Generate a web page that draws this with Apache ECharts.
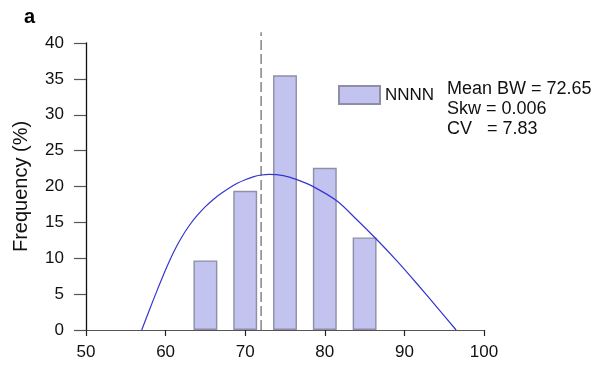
<!DOCTYPE html>
<html>
<head>
<meta charset="utf-8">
<script src="https://cdn.jsdelivr.net/npm/echarts@6/dist/echarts.min.js"></script>
<style>
  html, body { margin: 0; padding: 0; background: #fff; }
  #chart { width: 597px; height: 371px; }
</style>
</head>
<body>
<div id="chart"></div>
<script>
// Histogram bins (bin centre, frequency %)
const binCenters = [65, 70, 75, 80, 85];
const binFreq = [9.7, 19.4, 35.5, 22.6, 12.9];
const binSpan = 3; // bar width in axis units

// Fitted distribution curve
const curveX = [57, 58, 59, 60, 61, 62, 63, 64, 65, 66, 67, 68, 69, 70, 71, 72, 73, 74.8, 76.5, 78.6, 81.5, 84.0, 86.4, 89.0, 91.5, 94.0, 96.5];
const curveY = [0, 2.9, 5.7, 8.4, 10.85, 12.9, 14.6, 16.0, 17.2, 18.2, 19.05, 19.8, 20.45, 20.95, 21.35, 21.6, 21.7, 21.52, 20.95, 19.95, 18.0, 15.4, 12.75, 9.7, 6.55, 3.3, 0];

// Vertical dashed reference line
const refLineX = 72;
const refLineTop = 41.5;

// Axis ranges
const xMin = 50, xMax = 100, xStep = 10;
const yMin = 0, yMax = 40, yStep = 5;

const seriesName = 'NNNN';
const statLines = ['Mean BW = 72.65', 'Skw = 0.006', 'CV   = 7.83'];
const panelTag = 'a';
const yTitle = 'Frequency (%)';

const FONT = 'Liberation Sans, Arial, sans-serif';

const chart = echarts.init(document.getElementById('chart'), null, { renderer: 'canvas' });

const gridLeft = 86, gridRight = 113, gridTop = 43, gridBottom = 41;
const plotW = 597 - gridLeft - gridRight;
const barPx = plotW / (xMax - xMin) * binSpan;

chart.setOption({
  animation: false,
  grid: { left: gridLeft, right: gridRight, top: gridTop, bottom: gridBottom },
  legend: {
    data: [seriesName],
    left: 333,
    top: 80,
    itemWidth: 41,
    itemHeight: 18,
    icon: 'rect',
    textStyle: { fontFamily: FONT, fontSize: 17, color: '#111' }
  },
  xAxis: {
    type: 'value',
    min: xMin, max: xMax, interval: xStep,
    axisLine: { show: true, lineStyle: { color: '#555', width: 1.2 } },
    axisTick: { show: true, length: 6, lineStyle: { color: '#222', width: 1.2 } },
    axisLabel: { fontFamily: FONT, fontSize: 17, color: '#111', margin: 14 },
    splitLine: { show: false }
  },
  yAxis: {
    type: 'value',
    min: yMin, max: yMax, interval: yStep,
    name: yTitle,
    nameLocation: 'middle',
    nameGap: 55,
    nameTextStyle: { fontFamily: FONT, fontSize: 20, color: '#111' },
    axisLine: { show: true, onZero: false, lineStyle: { color: '#111', width: 1.3 } },
    axisTick: { show: true, length: 12, lineStyle: { color: '#555', width: 1.2 } },
    axisLabel: { fontFamily: FONT, fontSize: 17, color: '#111', margin: 22 },
    splitLine: { show: false }
  },
  series: [
    {
      name: seriesName,
      type: 'bar',
      barWidth: barPx,
      data: binCenters.map((c, i) => [c, binFreq[i]]),
      itemStyle: { color: '#c3c3f0', borderColor: '#8e8ea6', borderWidth: 1.4 },
      z: 2
    },
    {
      name: 'fit',
      type: 'line',
      smooth: 0.3,
      symbol: 'none',
      data: curveX.map((x, i) => [x, curveY[i]]),
      lineStyle: { color: '#3535d0', width: 1.2 },
      z: 4
    },
    {
      name: 'ref',
      type: 'line',
      symbol: 'none',
      clip: false,
      data: [[refLineX, 0], [refLineX, refLineTop]],
      lineStyle: { color: '#8a8f8a', width: 1.6, type: [10, 4] },
      z: 3
    }
  ],
  graphic: [
    {
      type: 'text',
      left: 24, top: 7,
      style: { text: panelTag, font: 'bold 20px ' + FONT, fill: '#000' }
    },
    {
      type: 'group',
      left: 447, top: 80,
      children: statLines.map((t, i) => ({
        type: 'text',
        x: 0, y: i * 20,
        style: { text: t, font: '18px ' + FONT, fill: '#111' }
      }))
    }
  ]
});
</script>
</body>
</html>
